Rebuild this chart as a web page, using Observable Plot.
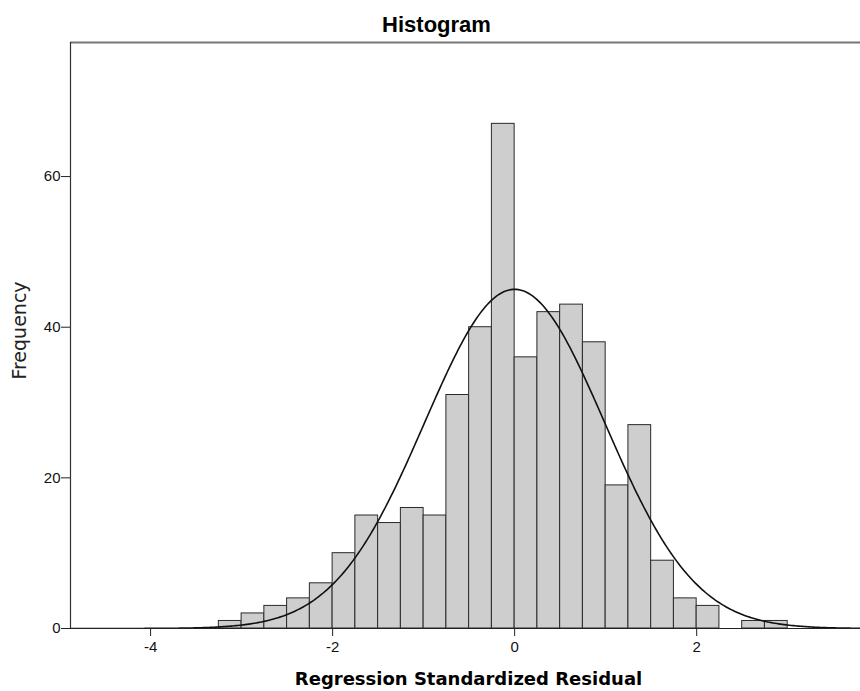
<!DOCTYPE html>
<html>
<head>
<meta charset="utf-8">
<script src="https://cdn.jsdelivr.net/npm/d3@7"></script>
<script src="https://cdn.jsdelivr.net/npm/@observablehq/plot@0.6"></script>
<style>
  html, body { margin: 0; padding: 0; background: #fff; }
  #chart svg { display: block; }
</style>
</head>
<body>
<div id="chart"></div>
<script>
// Histogram data (bin start, count), bin width 0.25
const binStarts = [-3.25, -3, -2.75, -2.5, -2.25, -2, -1.75, -1.5, -1.25, -1, -0.75, -0.5, -0.25, 0, 0.25, 0.5, 0.75, 1, 1.25, 1.5, 1.75, 2, 2.25, 2.5, 2.75];
const counts = [1, 2, 3, 4, 6, 10, 15, 14, 16, 15, 31, 40, 67, 36, 42, 43, 38, 19, 27, 9, 4, 3, 0, 1, 1];
const binWidth = 0.25;
const xTicks = [-4, -2, 0, 2];
const yTicks = [0, 20, 40, 60];
// Normal curve parameters (SPSS overlay)
const curveMean = 0;
const curveSd = 0.99;

const titleText = "Histogram";
const xLabel = "Regression Standardized Residual";
const yLabel = "Frequency";

const bins = binStarts.map((s, i) => ({x1: s, x2: s + binWidth, count: counts[i]})).filter(d => d.count > 0);
const N = d3.sum(counts);
const xDomain = [-4.88, 3.80];
const curve = d3.range(xDomain[0], xDomain[1] + 0.001, 0.02).map(x => ({
  x,
  y: N * binWidth / (curveSd * Math.sqrt(2 * Math.PI)) * Math.exp(-0.5 * ((x - curveMean) / curveSd) ** 2)
}));
const yMax = 77.8;

const font = "'Liberation Sans', Arial, Helvetica, sans-serif";
const wideFont = "'DejaVu Sans', Verdana, sans-serif";

const chart = Plot.plot({
  width: 860,
  height: 691,
  marginLeft: 70,
  marginRight: 0,
  marginTop: 42,
  marginBottom: 63,
  style: {fontFamily: font, fontSize: "15px", color: "#111", background: "#fff"},
  x: {domain: xDomain, ticks: xTicks, label: null},
  y: {domain: [0, yMax], ticks: yTicks, label: null},
  marks: [
    Plot.rectY(bins, {x1: "x1", x2: "x2", y: "count", fill: "#cecece", stroke: "#2a2a2a", strokeWidth: 1, insetLeft: 0, insetRight: 0}),
    Plot.line(curve, {x: "x", y: "y", stroke: "#111", strokeWidth: 1.6, curve: "linear", clip: true}),
    Plot.ruleY([0], {stroke: "#222", strokeWidth: 1.2}),
    Plot.ruleY([yMax], {stroke: "#777", strokeWidth: 2}),
    Plot.ruleX([xDomain[0]], {stroke: "#333", strokeWidth: 1.2}),
    Plot.axisX({ticks: xTicks, tickSize: 8, tickPadding: 5, label: null, stroke: "#222", fill: "#111", fontSize: 15, tickFormat: d => String(d)}),
    Plot.axisY({ticks: yTicks, tickSize: 9, tickPadding: 1, label: null, stroke: "#222", fill: "#111", fontSize: 15, tickFormat: d => String(d)}),
    Plot.text([titleText], {frameAnchor: "top", lineAnchor: "top", dy: -26, dx: -29, fontSize: 22, fontWeight: "bold", fill: "#000", fontFamily: font}),
    Plot.text([xLabel], {frameAnchor: "bottom", dy: 56, dx: 3, fontSize: 18, fontWeight: "bold", fill: "#000", fontFamily: wideFont}),
    Plot.text([yLabel], {frameAnchor: "left", textAnchor: "middle", lineAnchor: "middle", dx: -51, dy: -5, rotate: -90, fontSize: 19, fill: "#222", fontFamily: wideFont})
  ]
});
document.getElementById("chart").appendChild(chart);
</script>
</body>
</html>
